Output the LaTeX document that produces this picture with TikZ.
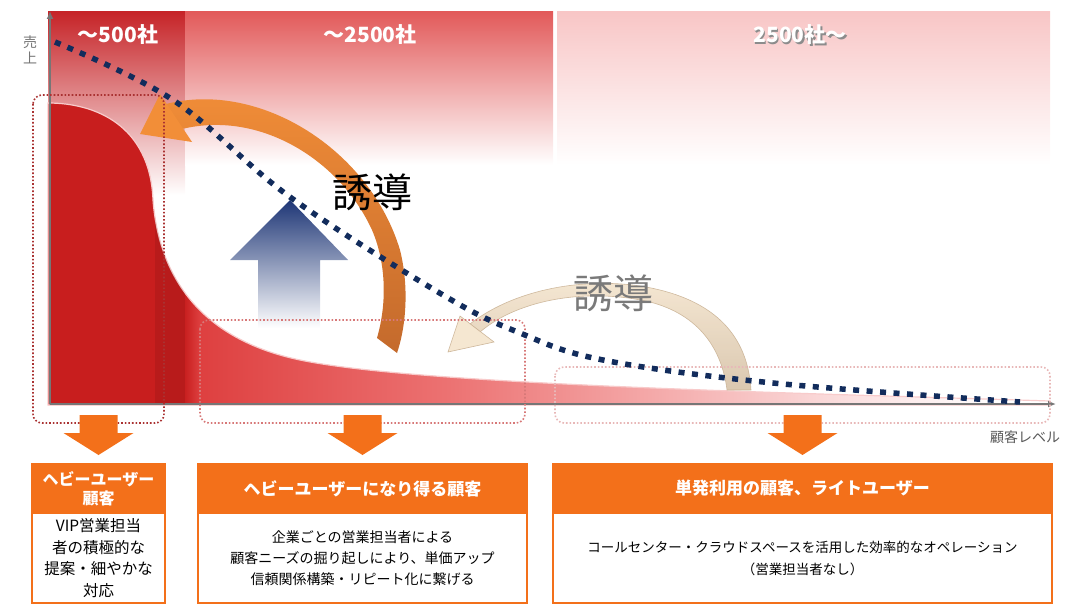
\documentclass[tikz,border=0pt]{standalone}
\usepackage{fontspec}
\setmainfont{Noto Sans CJK JP}
\usepackage{tikz}
\usetikzlibrary{positioning,arrows.meta,calc}
\definecolor{segorange}{RGB}{243,112,26}
\definecolor{bandred}{RGB}{198,36,40}
\definecolor{bandmid}{RGB}{226,90,90}
\definecolor{bandpale}{RGB}{248,198,198}
\definecolor{curvea}{RGB}{200,30,30}
\definecolor{curveb}{RGB}{222,64,64}
\definecolor{curvec}{RGB}{236,114,114}
\definecolor{curved}{RGB}{244,168,168}
\definecolor{curvee}{RGB}{251,224,224}
\definecolor{dotnavy}{RGB}{18,44,92}
\definecolor{axisgray}{RGB}{118,118,118}
\definecolor{leadorange}{RGB}{242,142,56}
\definecolor{leadbrown}{RGB}{196,106,44}
\definecolor{liftnavy}{RGB}{30,54,118}
\definecolor{paletop}{RGB}{244,228,204}
\definecolor{palebot}{RGB}{212,190,162}
\definecolor{paleedge}{RGB}{200,176,146}
\definecolor{boxdeep}{RGB}{170,50,50}
\definecolor{boxmid}{RGB}{215,120,120}
\definecolor{boxlight}{RGB}{232,184,184}
\pgfdeclarehorizontalshading{curvefade}{100bp}{color(0bp)=(curvea); color(31.8bp)=(curvea);
  color(32.6bp)=(curveb); color(45bp)=(curvec); color(55bp)=(curved); color(65bp)=(curvee);
  color(72.5bp)=(white); color(100bp)=(white)}
\newcommand{\jpsize}[2]{\fontsize{#1}{#2}\selectfont}
\tikzset{
  bandlabel/.style={text=white,font=\bfseries\jpsize{21}{24}},
  hdbox/.style={fill=segorange,draw=segorange,line width=2pt,text=white,
    font=\bfseries\jpsize{17}{20},inner sep=0pt,outer sep=0pt,align=center},
  bdbox/.style={fill=white,draw=segorange,line width=2pt,
    font=\jpsize{14}{21},inner sep=0pt,outer sep=0pt,align=center},
  leadtext/.style={font=\jpsize{40}{44}}
}

\begin{document}
\begin{tikzpicture}[x=1pt,y=-1pt]
\useasboundingbox (0,0) rectangle (1067,615);
\shade[top color=bandred,bottom color=white] (48,12) rectangle (185,195);
\shade[top color=bandmid,bottom color=white] (185,12) rectangle (553,165);
\shade[top color=bandpale,bottom color=white] (557,12) rectangle (1050,165);
\shade[shading=curvefade,draw=curved!60!white,line width=1.2pt] (48,405) -- (48,103)
  .. controls (95,103) and (150,125) .. (153,200)
  .. controls (158,265) and (190,337) .. (300,360)
  .. controls (420,385) and (800,393) .. (1050,401) -- (1050,405) -- cycle;
\begin{scope}
\clip (48,405) -- (48,103) .. controls (95,103) and (150,125) .. (153,200)
  .. controls (158,265) and (190,337) .. (300,360) -- (300,405) -- cycle;
\fill[black,opacity=0.08] (155,150) rectangle (185,405);
\end{scope}

\node[bandlabel] (seg1) at (118,35) {～500社};
\node[bandlabel] (seg2) at (370,35) {～2500社};
\node[bandlabel,text=black!45] (seg3shadow) at (801.5,36.5) {2500社～};
\node[bandlabel] (seg3) at (800,35) {2500社～};

\shade[top color=liftnavy,bottom color=white] (290,200) -- (348,260) -- (320,260)
  -- (320,328) -- (258,328) -- (258,260) -- (230,260) -- cycle;

\coordinate (origin) at (50,404);
\coordinate (ytop) at (50,11);
\coordinate (xend) at (1056,404);
\draw[axisgray,line width=2pt,-{Latex[length=8pt,width=7pt]}] (origin) -- (ytop);
\draw[axisgray,line width=2pt,-{Latex[length=8pt,width=7pt]}] (origin) -- (xend);
\node[text=axisgray,font=\jpsize{14}{16},align=center] (ylab) at (30,50) {売\\上};
\node[text=black!65,font=\jpsize{14}{16}] (xlab) at (1025,437) {顧客レベル};

\shade[top color=leadorange,bottom color=leadbrown] (166,104)
  .. controls (260,80) and (370,150) .. (400,250)
  .. controls (410,290) and (405,330) .. (397,353) -- (377,338)
  .. controls (388,300) and (385,260) .. (372,230)
  .. controls (340,160) and (260,110) .. (182,129) -- cycle;
\fill[leadorange] (140,134) -- (160,94) -- (192,142) -- cycle;

\shade[top color=paletop,bottom color=palebot,draw=paleedge,line width=0.6pt,opacity=0.85] (470,324)
  .. controls (520,285) and (600,275) .. (660,290)
  .. controls (720,305) and (748,340) .. (751,390) -- (727,390)
  .. controls (722,350) and (700,315) .. (650,302)
  .. controls (590,288) and (520,298) .. (480,332) -- cycle;
\filldraw[fill=paletop,draw=paleedge,line width=0.6pt,opacity=0.9] (448,352) -- (460,316) -- (494,342) -- cycle;

\foreach \c/\xa/\ya/\xb/\yb in {boxdeep/33/95/164/423,boxmid/200/320/525/423,boxlight/555/367/1050/423}
  \draw[\c,line width=1.6pt,dash pattern=on 1.6pt off 2pt,rounded corners=9pt] (\xa,\ya) rectangle (\xb,\yb);

\draw[dotnavy,line width=5.5pt,dash pattern=on 6pt off 7.5pt] plot[smooth,tension=0.6] coordinates
  {(55,42) (173,100) (290,197) (443,295) (520,333) (603,360) (773,383) (1020,402)};

\node[leadtext] (lead1) at (372,192) {誘導};
\node[leadtext,text=black!52] (lead2) at (613,293) {誘導};

\node[hdbox,minimum width=133pt,minimum height=49pt,font=\bfseries\jpsize{16}{19}] (hdA) at (98.5,488.5) {ヘビーユーザー\\顧客};
\node[bdbox,minimum width=133pt,minimum height=90pt,font=\jpsize{15.5}{21.7},below=0pt of hdA] (bdA) {VIP営業担当\\者の積極的な\\提案・細やかな\\対応};
\node[hdbox,minimum width=329pt,minimum height=49pt] (hdB) at (362.5,488.5) {ヘビーユーザーになり得る顧客};
\node[bdbox,minimum width=329pt,minimum height=90pt,below=0pt of hdB] (bdB) {企業ごとの営業担当者による\\顧客ニーズの掘り起しにより、単価アップ\\信頼関係構築・リピート化に繋げる};
\node[hdbox,minimum width=499pt,minimum height=49pt] (hdC) at (802.5,488.5) {単発利用の顧客、ライトユーザー};
\node[bdbox,minimum width=499pt,minimum height=90pt,font=\jpsize{13.5}{22},below=0pt of hdC] (bdC) {コールセンター・クラウドスペースを活用した効率的なオペレーション\\（営業担当者なし）};

\foreach \b in {hdA,hdB,hdC}
  \fill[segorange] ($(\b.north)+(-19,-49)$) -- ++(38,0) -- ++(0,18) -- ++(16,0)
    -- ($(\b.north)+(0,-9)$) -- ++(-35,-22) -- ++(16,0) -- cycle;
\end{tikzpicture}
\end{document}
